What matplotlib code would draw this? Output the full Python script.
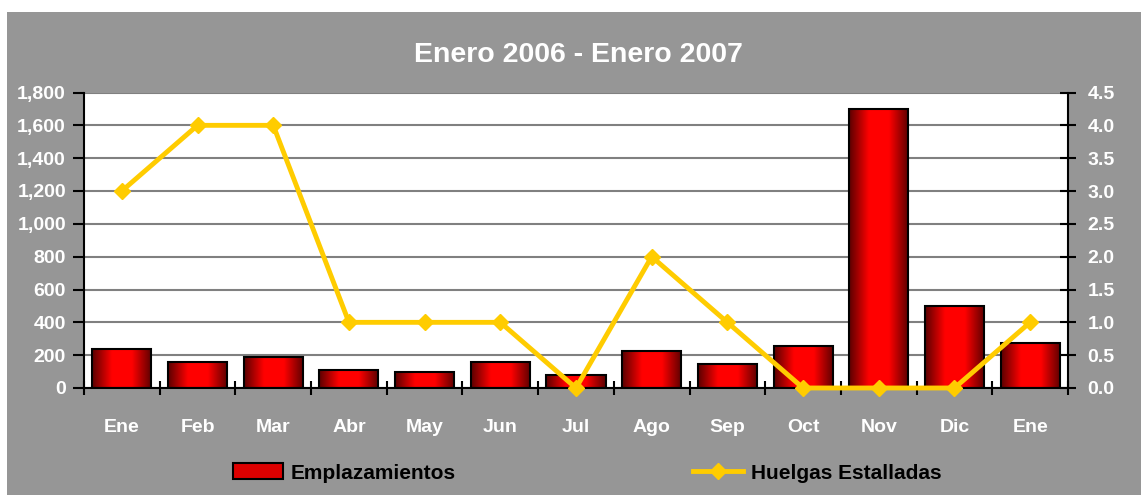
import numpy as np
import matplotlib.pyplot as plt
from matplotlib.colors import LinearSegmentedColormap
from matplotlib.patches import Rectangle
from matplotlib.lines import Line2D

plt.rcParams['font.family'] = ['Liberation Sans', 'DejaVu Sans']
plt.rcParams['font.weight'] = 'bold'

meses = ['Ene', 'Feb', 'Mar', 'Abr', 'May', 'Jun', 'Jul', 'Ago', 'Sep', 'Oct', 'Nov', 'Dic', 'Ene']
emplazamientos = [240, 160, 190, 112, 96, 160, 77, 226, 146, 258, 1700, 500, 273]
huelgas = [3, 4, 4, 1, 1, 1, 0, 2, 1, 0, 0, 0, 1]

gris = '#969696'
amarillo = '#FFCC00'

fig = plt.figure(figsize=(11.41, 4.95), dpi=100, facecolor='white')
# gray chart area (leaves a small white margin top/left like the original)
fig.patches.append(Rectangle((7/1141, 0), 1, 1 - 12/495, transform=fig.transFigure,
                             facecolor=gris, edgecolor='none', zorder=-10))

ax = fig.add_axes([84/1141, 1 - 388/495, (1068-84)/1141, (388-92.5)/495])
ax.set_facecolor('white')

x = np.arange(len(meses))
ancho = 0.78
barras = ax.bar(x, emplazamientos, width=ancho, color='none', edgecolor='black',
                linewidth=1.5, zorder=3)

# horizontal gradient inside each bar: dark edges, bright red center
cmap = LinearSegmentedColormap.from_list('rojo', ['#5a0000', '#ff0000', '#ff0000', '#5a0000'])
grad = np.linspace(0, 1, 256).reshape(1, -1)
for b in barras:
    bx, by = b.get_x(), b.get_y()
    w, h = b.get_width(), b.get_height()
    im = ax.imshow(grad, cmap=cmap, extent=[bx, bx + w, by, by + h], aspect='auto', zorder=2)
    im.set_clip_path(b)

ax.set_xlim(-0.5, len(meses) - 0.5)
ax.set_ylim(0, 1800)
ax.set_yticks(np.arange(0, 1801, 200))
ax.set_yticklabels([f'{v:,}' for v in range(0, 1801, 200)])
ax.yaxis.grid(True, color='#808080', linewidth=1.5, zorder=0)
ax.set_axisbelow(True)

ax.set_xticks(x)
ax.set_xticklabels(meses)
ax.set_xticks(np.arange(-0.5, len(meses), 1), minor=True)
ax.tick_params(axis='x', which='major', length=0, pad=22, labelsize=14, labelcolor='white')
ax.tick_params(axis='x', which='minor', direction='inout', length=10, width=1.5, color='black')
ax.tick_params(axis='y', direction='out', length=8, width=1.5, labelsize=14,
               labelcolor='white', pad=5)

for s in ['top', 'right']:
    ax.spines[s].set_visible(False)
ax.spines['left'].set_linewidth(1.5)
ax.spines['bottom'].set_linewidth(1.5)

ax2 = ax.twinx()
ax2.plot(x, huelgas, color=amarillo, linewidth=3.5, marker='D', markersize=8,
         markeredgecolor=amarillo, zorder=5, clip_on=False)
ax2.set_ylim(0, 4.5)
ax2.set_yticks(np.arange(0, 4.51, 0.5))
ax2.set_yticklabels([f'{v:.1f}' for v in np.arange(0, 4.51, 0.5)])
ax2.tick_params(axis='y', direction='inout', length=12, width=1.5, labelsize=14,
                labelcolor='white', pad=8)
for s in ['top', 'left', 'bottom']:
    ax2.spines[s].set_visible(False)
ax2.spines['right'].set_linewidth(1.5)

fig.text(578/1141, 1 - 55/495, 'Enero 2006 - Enero 2007', ha='center', va='center',
         color='white', fontsize=20.5, fontweight='bold')

h1 = Rectangle((0, 0), 1, 1, facecolor='#dd0000', edgecolor='black', linewidth=1.5)
h2 = Line2D([], [], color=amarillo, linewidth=3.5, marker='D', markersize=8)
ley = dict(frameon=False, loc='center left', borderpad=0, borderaxespad=0,
           handlelength=2.4, handleheight=0.77, handletextpad=0.38,
           prop={'size': 15, 'weight': 'bold'})
fig.legend([h1], ['Emplazamientos'], bbox_to_anchor=(233/1141, 1 - 473/495), **ley)
fig.legend([h2], ['Huelgas Estalladas'], bbox_to_anchor=(693/1141, 1 - 473/495), **ley)

fig.savefig('out.png', dpi=100, facecolor=fig.get_facecolor())
